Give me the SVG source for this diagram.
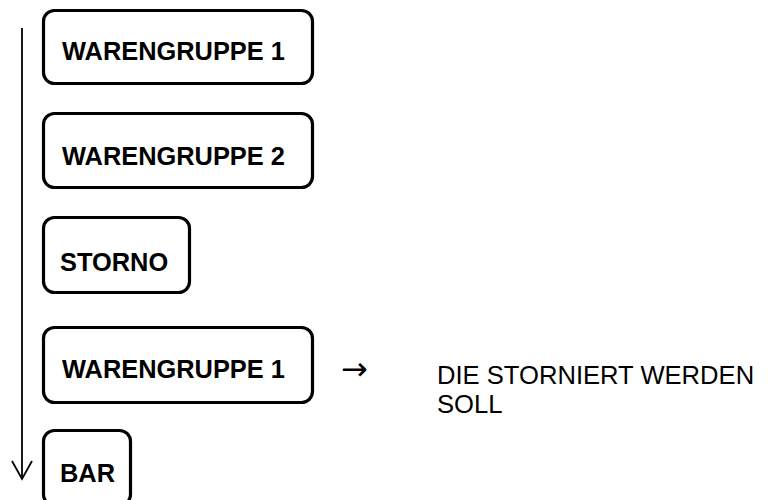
<svg xmlns="http://www.w3.org/2000/svg" width="768" height="500" viewBox="0 0 768 500">
<style>
.box{fill:#fff;stroke:#000;stroke-width:3.2}
.bt{font-family:"Liberation Sans",Arial,sans-serif;font-weight:bold;font-size:25.4px;fill:#000}
.rt{font-family:"Liberation Sans",Arial,sans-serif;font-size:25.6px;fill:#000}
.ln{fill:none;stroke:#000;stroke-width:1.8}
</style>
<rect width="768" height="500" fill="#fff"/>
<g id="connectors">
<line class="ln" x1="22" y1="28" x2="22" y2="478"/>
<polyline class="ln" points="12,461 22,479 32,461"/>
</g>
<g id="n1"><rect class="box" x="43.5" y="10.5" width="269" height="73" rx="11"/><text class="bt" x="62" y="60">WARENGRUPPE 1</text></g>
<g id="n2"><rect class="box" x="43.5" y="113.5" width="269" height="74" rx="11"/><text class="bt" x="62" y="165">WARENGRUPPE 2</text></g>
<g id="n3"><rect class="box" x="43.5" y="217.5" width="146" height="75" rx="11"/><text class="bt" x="60" y="271">STORNO</text></g>
<g id="n4"><rect class="box" x="43.5" y="327.5" width="269" height="75" rx="11"/><text class="bt" x="62" y="378">WARENGRUPPE 1</text></g>
<g id="n5"><rect class="box" x="43.5" y="430.5" width="87" height="75" rx="11"/><text class="bt" x="60" y="482">BAR</text></g>
<g id="note">
<text x="341" y="380" style="font-family:'DejaVu Sans',sans-serif;font-size:32px">→</text>
<text class="rt" x="437" y="384">DIE STORNIERT WERDEN</text>
<text class="rt" x="437" y="413">SOLL</text>
</g>
</svg>
